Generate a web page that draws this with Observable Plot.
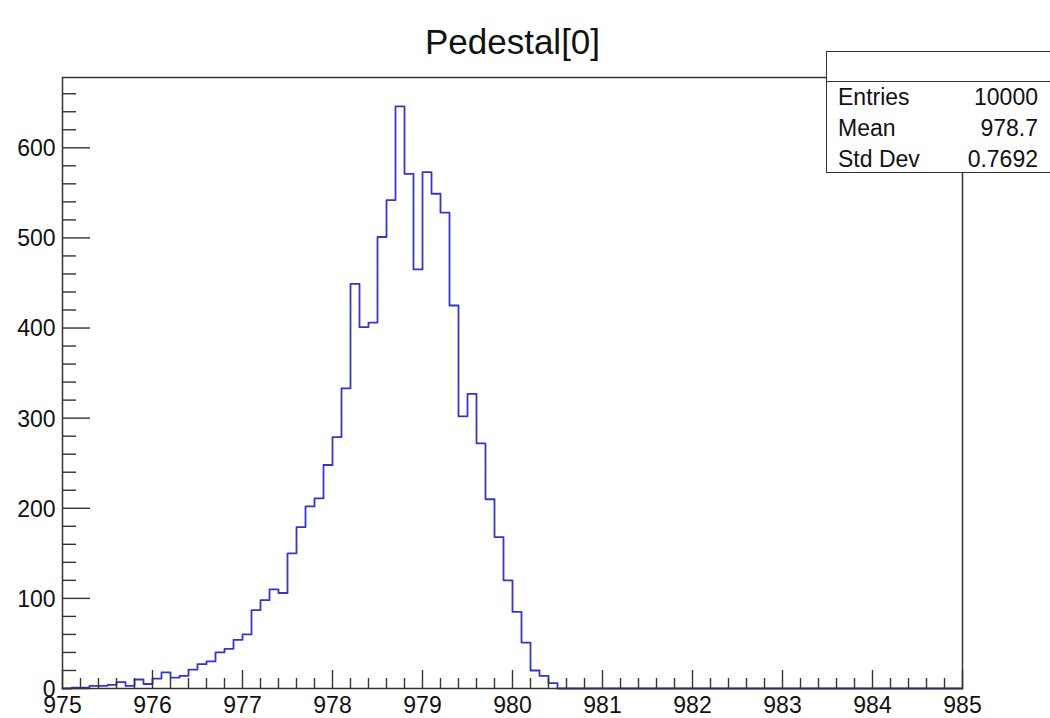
<!DOCTYPE html>
<html>
<head>
<meta charset="utf-8">
<script src="https://cdn.jsdelivr.net/npm/d3@7"></script>
<script src="https://cdn.jsdelivr.net/npm/@observablehq/plot@0.6"></script>
<style>
  html, body { margin: 0; padding: 0; background: #fff; }
  #wrap { position: relative; width: 1050px; height: 718px; overflow: hidden; font-family: "Liberation Sans", Arial, sans-serif; color: #111; }
  #stats { position: absolute; left: 826px; top: 51px; width: 240px; height: 122px; box-sizing: border-box; border: 1.5px solid #333; background: #fff; }
  #statsHead { position: absolute; left: 826px; top: 80.5px; width: 240px; height: 0; border-top: 1.5px solid #333; }
  .srow { position: absolute; font-size: 23px; line-height: 23px; white-space: nowrap; }
  .slab { left: 838px; }
  .sval { right: 12px; text-align: right; }
</style>
</head>
<body>
<div id="wrap"></div>
<script>
// ---- data ----
const title = "Pedestal[0]";
const xMin = 975, xMax = 985, binWidth = 0.1;
const counts = [
  0, 1, 1, 3, 3, 4, 7, 3, 10, 5,
  11, 18, 12, 14, 21, 27, 30, 40, 44, 54,
  60, 87, 98, 110, 106, 150, 179, 202, 211, 248,
  279, 333, 449, 401, 406, 501, 542, 646, 571, 465,
  573, 549, 528, 425, 302, 327, 272, 210, 168, 120,
  85, 51, 20, 14, 6, 0, 0, 0, 0, 0,
  0, 0, 0, 0, 0, 0, 0, 0, 0, 0,
  0, 0, 0, 0, 0, 0, 0, 0, 0, 0,
  0, 0, 0, 0, 0, 0, 0, 0, 0, 0,
  0, 0, 0, 0, 0, 0, 0, 0, 0, 0
];
const yMax = 678;
const xMajorTicks = [975, 976, 977, 978, 979, 980, 981, 982, 983, 984, 985];
const xMinorTicks = d3.range(0, 51).map(i => +(975 + i * 0.2).toFixed(1)).filter(v => !xMajorTicks.includes(v));
const yMajorTicks = [0, 100, 200, 300, 400, 500, 600];
const yMinorTicks = d3.range(0, 34).map(i => i * 20).filter(v => !yMajorTicks.includes(v));
const statLabels = ["Entries", "Mean", "Std Dev"];
const statValues = ["10000", "978.7", "0.7692"];

// ---- build step outline from bin edges ----
const steps = counts.map((c, i) => ({x: xMin + i * binWidth, y: c}));
steps.push({x: xMax, y: counts[counts.length - 1]});

const W = 1050, H = 718;
const mT = 77, mB = 30, mL = 62, mR = 88;
const fw = W - mL - mR, fh = H - mT - mB;
const axisColor = "#333";
const font = "Liberation Sans, Arial, sans-serif";

const chart = Plot.plot({
  width: W,
  height: H,
  marginTop: mT, marginBottom: mB, marginLeft: mL, marginRight: mR,
  style: {fontFamily: font, fontSize: "23px", color: "#111", background: "#fff"},
  x: {domain: [xMin, xMax]},
  y: {domain: [0, yMax]},
  marks: [
    Plot.line(steps, {x: "x", y: "y", curve: "step-after", stroke: "#3535c8", strokeWidth: 1.8}),
    Plot.frame({stroke: axisColor, strokeWidth: 1.5}),
    Plot.tickX(xMajorTicks, {x: d => d, insetTop: fh - 18, stroke: axisColor, strokeWidth: 1.4}),
    Plot.tickX(xMinorTicks, {x: d => d, insetTop: fh - 10, stroke: axisColor, strokeWidth: 1.4}),
    Plot.tickY(yMajorTicks, {y: d => d, insetRight: fw - 28, stroke: axisColor, strokeWidth: 1.4}),
    Plot.tickY(yMinorTicks, {y: d => d, insetRight: fw - 14, stroke: axisColor, strokeWidth: 1.4}),
    Plot.axisX({ticks: xMajorTicks, tickSize: 0, tickPadding: 8, fontSize: 23, tickFormat: d => String(d), label: null}),
    Plot.axisY({ticks: yMajorTicks, tickSize: 0, tickPadding: 7, fontSize: 23, dy: 1, tickFormat: d => String(d), label: null}),
    Plot.text([title], {text: d => d, frameAnchor: "top", dy: -48.5, fontSize: 35, fill: "#111"})
  ]
});

const wrap = document.getElementById("wrap");
wrap.appendChild(chart);

// ---- stats box ----
const box = document.createElement("div"); box.id = "stats"; wrap.appendChild(box);
const head = document.createElement("div"); head.id = "statsHead"; wrap.appendChild(head);
const rowTops = [86, 117, 148];
statLabels.forEach((lab, i) => {
  const a = document.createElement("div");
  a.className = "srow slab"; a.style.top = rowTops[i] + "px"; a.textContent = lab;
  wrap.appendChild(a);
  const b = document.createElement("div");
  b.className = "srow sval"; b.style.top = rowTops[i] + "px"; b.textContent = statValues[i];
  wrap.appendChild(b);
});
</script>
</body>
</html>
